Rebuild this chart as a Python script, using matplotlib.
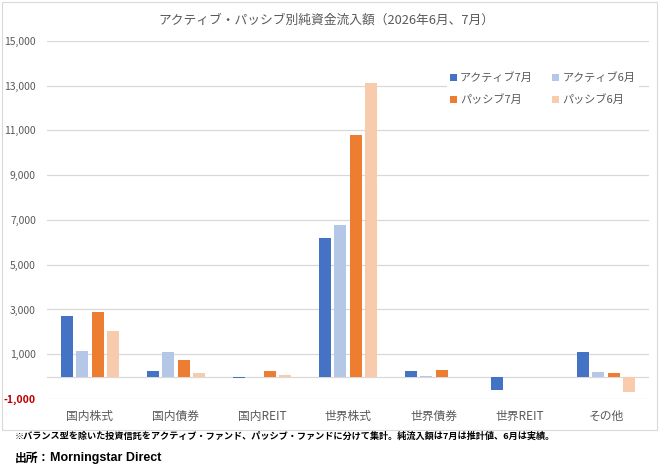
import numpy as np
import matplotlib
matplotlib.use('Agg')
import matplotlib.pyplot as plt
from matplotlib.patches import Rectangle

plt.rcParams['font.family'] = ['Noto Sans CJK JP', 'DejaVu Sans']

# data (億円)
categories = ['国内株式', '国内債券', '国内REIT', '世界株式', '世界債券', '世界REIT', 'その他']
series_names = ['アクティブ7月', 'アクティブ6月', 'パッシブ7月', 'パッシブ6月']
active_jul = [2700, 270, -60, 6190, 250, -580, 1090]
active_jun = [1150, 1100, 0, 6780, 50, 0, 200]
passive_jul = [2870, 740, 240, 10780, 310, 0, 160]
passive_jun = [2050, 150, 60, 13110, 0, 0, -680]
yticks = [-1000, 1000, 3000, 5000, 7000, 9000, 11000, 13000, 15000]

colors = ['#4472C4', '#B4C7E7', '#ED7D31', '#F8CBAD']
gray = '#595959'

fig = plt.figure(figsize=(6.6, 4.7), dpi=100)
ax = fig.add_axes([0.0712, 0.151, 0.912, 0.762])

x = np.arange(len(categories))
width = 0.14
step = 0.18
all_series = [active_jul, active_jun, passive_jul, passive_jun]
bars = []
for i, (vals, name, c) in enumerate(zip(all_series, series_names, colors)):
    bars.append(ax.bar(x + (i - 1.5) * step, vals, width, color=c, label=name, zorder=3))

ax.set_xlim(-0.5, len(categories) - 0.5)
ax.set_ylim(-1000, 15000)
ax.set_yticks(yticks)
ax.set_yticklabels(['{:,}'.format(v) for v in yticks], fontsize=7.5, color=gray)
ax.get_yticklabels()[0].set_color('#C00000')
ax.get_yticklabels()[0].set_fontweight('bold')
ax.set_xticks(x)
ax.set_xticklabels(categories, fontsize=8.5, color=gray)
ax.tick_params(axis='x', length=0, pad=8)
ax.tick_params(axis='y', length=0, pad=8)
for s in ax.spines.values():
    s.set_visible(False)
for v in yticks:
    ax.axhline(v, color='#D9D9D9', lw=0.9, zorder=1)
ax.axhline(0, color='#D9D9D9', lw=0.9, zorder=1)

fig.text(0.495, 0.957, 'アクティブ・パッシブ別純資金流入額（2026年6月、7月）',
         fontsize=9.2, color=gray, ha='center', va='center')

# row 1: active, row 2: passive
order = [0, 2, 1, 3]
leg = ax.legend([bars[i] for i in order], [series_names[i] for i in order],
                ncol=2, loc='upper left', bbox_to_anchor=(0.655, 0.937),
                frameon=True, facecolor='white', edgecolor='none', framealpha=1,
                fontsize=8, handlelength=0.6, handleheight=0.6,
                handletextpad=0.3, columnspacing=1.75, labelspacing=1.0,
                borderpad=0.3)
for t in leg.get_texts():
    t.set_color(gray)

fig.text(0.023, 0.072, '※バランス型を除いた投資信託をアクティブ・ファンド、パッシブ・ファンドに分けて集計。純流入額は7月は推計値、6月は実績。',
         fontsize=6.6, fontweight='bold', color='black', va='center')
fig.text(0.023, 0.025, '出所：', fontsize=8.5, fontweight='bold', color='black', va='center')
fig.text(0.076, 0.025, 'Morningstar Direct', fontsize=9, fontweight='heavy',
         family=['Liberation Sans', 'DejaVu Sans'], color='black', va='center')

fig.patches.append(Rectangle((0.003, 0.085), 0.992, 0.91, transform=fig.transFigure,
                             fill=False, edgecolor='#D9D9D9', lw=0.8))

fig.savefig('out.png', dpi=100)
